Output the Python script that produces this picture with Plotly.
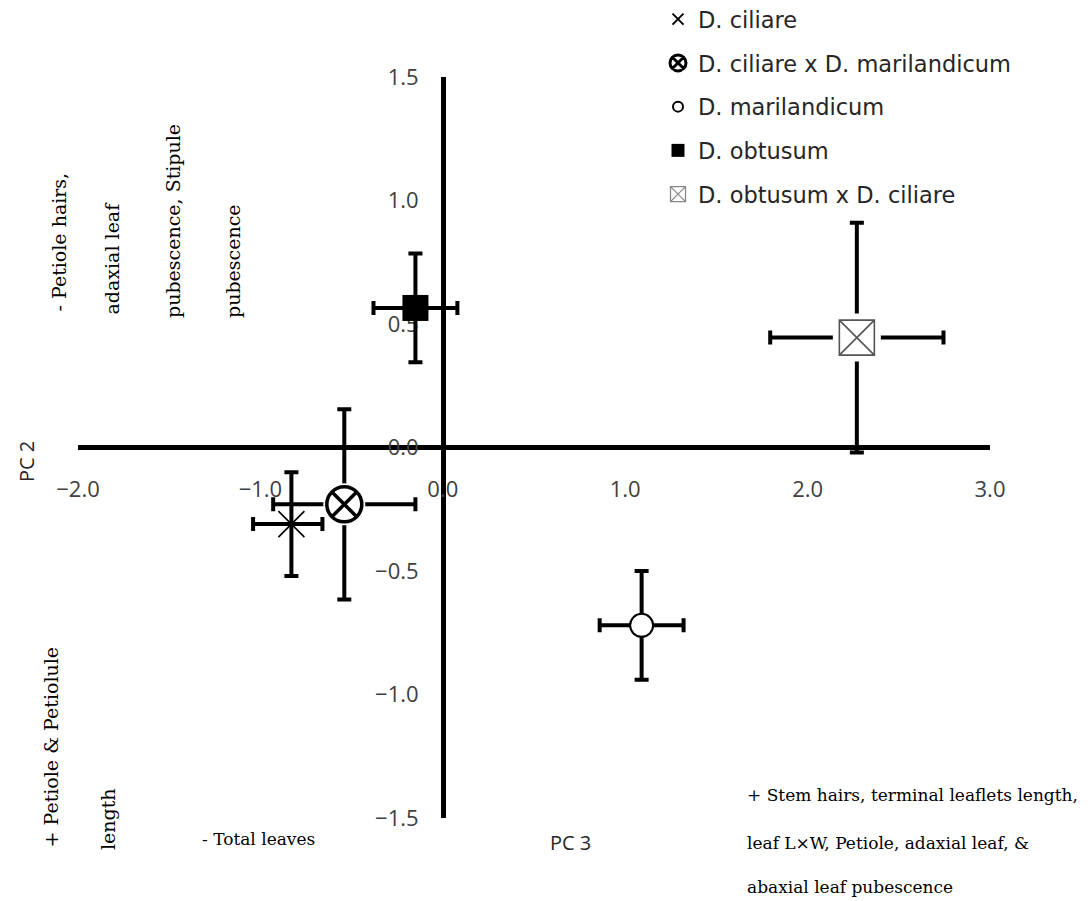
import plotly.graph_objects as go

# ---- data ----
species = ["D. ciliare", "D. ciliare x D. marilandicum", "D. marilandicum",
           "D. obtusum", "D. obtusum x D. ciliare"]
pc3 = [-0.83, -0.54, 1.09, -0.15, 2.27]
pc2 = [-0.31, -0.23, -0.72, 0.565, 0.445]
pc3_err_plus = [0.17, 0.39, 0.23, 0.23, 0.475]
pc3_err_minus = [0.21, 0.39, 0.23, 0.23, 0.475]
pc2_err = [0.21, 0.385, 0.22, 0.22, 0.465]

x_ticks = [-2, -1, 0, 1, 2, 3]
y_ticks = [-1.5, -1.0, -0.5, 0.0, 0.5, 1.0, 1.5]

# page body has an 8px margin; the figure starts at (8, 8) on screen
OFF = 8
W, H = 1083, 893
# plot area in screen pixels
SX0, SX1, SY0, SY1 = 78, 990, 77, 818
L, R, T, B = SX0 - OFF, W - (SX1 - OFF), SY0 - OFF, H - (SY1 - OFF)
PW, PH = W - L - R, H - T - B


def px(sx):
    return (sx - SX0) / PW


def py(sy):
    return (SY1 - sy) / PH


SANS = "DejaVu Sans"
TICKSANS = "Open Sans"
SERIF = "DejaVu Serif"
TXT = "#262626"
SERIF_H = 17
SERIF_V = 19

fig = go.Figure()


def err(i, w=7):
    ex = dict(type="data", symmetric=False, array=[pc3_err_plus[i]],
              arrayminus=[pc3_err_minus[i]], color="black", thickness=4, width=w)
    ey = dict(type="data", array=[pc2_err[i]], color="black", thickness=4, width=w)
    return ex, ey


# D. ciliare
ex, ey = err(0)
fig.add_trace(go.Scatter(x=[pc3[0]], y=[pc2[0]], mode="markers", showlegend=False,
                         error_x=ex, error_y=ey,
                         marker=dict(symbol="x-thin", size=26,
                                     line=dict(color="black", width=1.6))))
# D. ciliare x D. marilandicum
ex, ey = err(1)
fig.add_trace(go.Scatter(x=[pc3[1]], y=[pc2[1]], mode="markers", showlegend=False,
                         error_x=ex, error_y=ey,
                         marker=dict(symbol="circle", size=42, color="white",
                                     line=dict(width=0))))
fig.add_trace(go.Scatter(x=[pc3[1]], y=[pc2[1]], mode="markers", showlegend=False,
                         marker=dict(symbol="circle-x", size=35, color="white",
                                     line=dict(color="black", width=3.5))))
# D. marilandicum
ex, ey = err(2)
fig.add_trace(go.Scatter(x=[pc3[2]], y=[pc2[2]], mode="markers", showlegend=False,
                         error_x=ex, error_y=ey,
                         marker=dict(symbol="circle", size=23, color="white",
                                     line=dict(color="black", width=2))))
# D. obtusum
ex, ey = err(3)
fig.add_trace(go.Scatter(x=[pc3[3]], y=[pc2[3]], mode="markers", showlegend=False,
                         error_x=ex, error_y=ey,
                         marker=dict(symbol="square", size=26, color="black",
                                     line=dict(color="black", width=0))))
# D. obtusum x D. ciliare
ex, ey = err(4)
fig.add_trace(go.Scatter(x=[pc3[4]], y=[pc2[4]], mode="markers", showlegend=False,
                         error_x=ex, error_y=ey,
                         marker=dict(symbol="square", size=48, color="white",
                                     line=dict(width=0))))
fig.add_trace(go.Scatter(x=[pc3[4]], y=[pc2[4]], mode="markers", showlegend=False,
                         marker=dict(symbol="square-x", size=35, color="white",
                                     line=dict(color="#555555", width=1.6))))

# ---- legend entries ----
leg_markers = [
    dict(symbol="x-thin", size=11, line=dict(color="black", width=2)),
    dict(symbol="circle-x", size=16, color="white", line=dict(color="black", width=3)),
    dict(symbol="circle", size=10, color="white", line=dict(color="black", width=2)),
    dict(symbol="square", size=13, color="black", line=dict(width=0)),
    dict(symbol="square-x", size=15, color="white", line=dict(color="#888888", width=1.3)),
]
for i, name in enumerate(species):
    fig.add_trace(go.Scatter(x=[None], y=[None], mode="markers", name=name,
                             legendgroup=f"g{i}", marker=leg_markers[i]))

axis_common = dict(showgrid=False, zeroline=False, showline=True, linecolor="black",
                   linewidth=5, ticks="", layer="below traces", anchor="free",
                   tickfont=dict(family=TICKSANS, size=22, color="#404040"),
                   tickformat=".1f", fixedrange=True)

fig.update_layout(
    width=W, height=H,
    margin=dict(l=L, r=R, t=T, b=B, autoexpand=False),
    paper_bgcolor="white", plot_bgcolor="white",
    xaxis=dict(range=[-2, 3], tickvals=x_ticks, position=py(447),
               ticklabelstandoff=21, **axis_common),
    yaxis=dict(range=[-1.5, 1.5], tickvals=y_ticks, position=px(443),
               ticklabelstandoff=18, **axis_common),
    legend=dict(x=px(658), y=py(-2), xanchor="left", yanchor="top",
                font=dict(family=SANS, size=22.5, color=TXT),
                traceorder="grouped", tracegroupgap=11.5, bgcolor="rgba(0,0,0,0)"),
    showlegend=True,
)

ann = []
# axis titles
ann.append(dict(text="PC 2", x=px(26), y=py(462), textangle=-90,
                font=dict(family=TICKSANS, size=20, color=TXT)))
ann.append(dict(text="PC 3", x=px(570), y=py(842),
                font=dict(family=TICKSANS, size=20, color=TXT)))

# rotated serif notes (bottom aligned)
rot = [("- Petiole hairs,", 58, 314),
       ("adaxial leaf", 111, 317),
       ("pubescence, Stipule", 173, 320),
       ("pubescence", 233, 320),
       ("+ Petiole &amp; Petiolule", 50, 850),
       ("length", 108, 852)]
for t, xx, yy in rot:
    ann.append(dict(text=t, x=px(xx), y=py(yy), textangle=-90, xanchor="center",
                    yanchor="bottom", font=dict(family=SERIF, size=SERIF_V, color="black")))

ann.append(dict(text="- Total leaves", x=px(317), y=py(839), xanchor="right",
                font=dict(family=SERIF, size=SERIF_H, color="black")))

for t, yy in [("+ Stem hairs, terminal leaflets length,", 795),
              ("leaf L×W, Petiole, adaxial leaf, &amp;", 843),
              ("abaxial leaf pubescence", 887)]:
    ann.append(dict(text=t, x=px(745), y=py(yy), xanchor="left",
                    font=dict(family=SERIF, size=SERIF_H, color="black")))

for a in ann:
    a.update(xref="paper", yref="paper", showarrow=False)
    a.setdefault("xanchor", "center")
    a.setdefault("yanchor", "middle")
fig.update_layout(annotations=ann)

fig.write_html("out.html")
